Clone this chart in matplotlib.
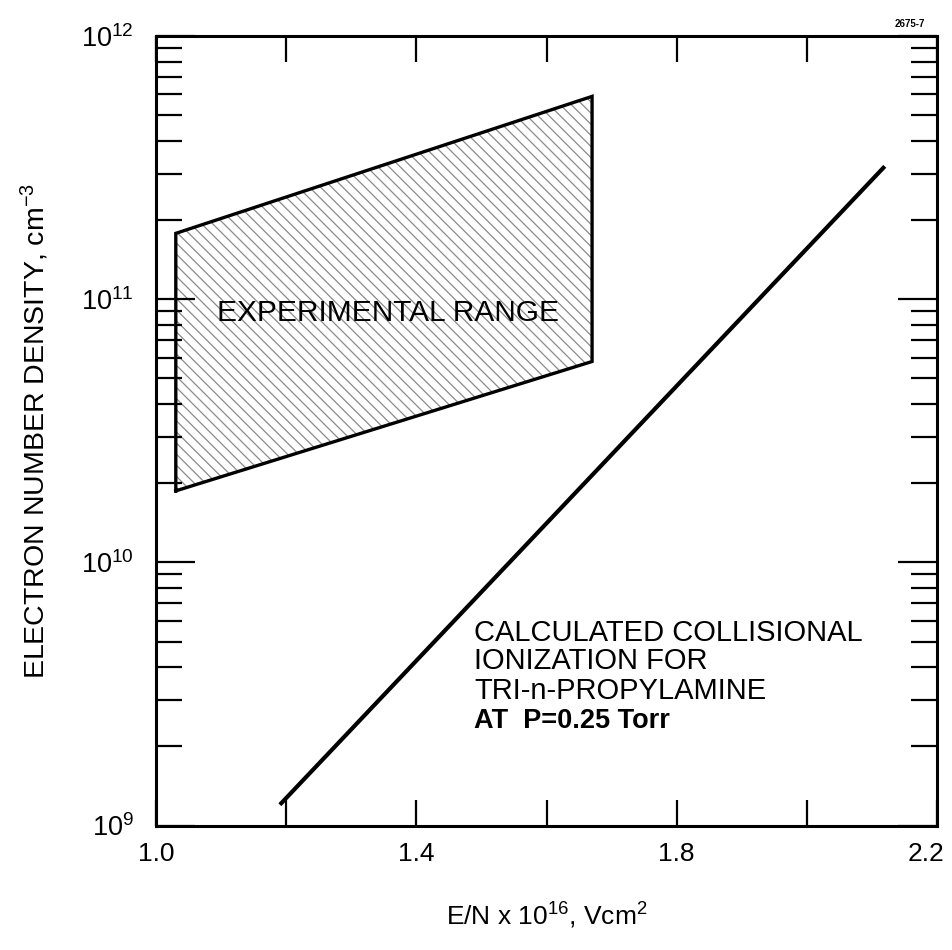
import matplotlib
matplotlib.use("Agg")
import matplotlib.pyplot as plt
from matplotlib.ticker import FixedLocator, LogLocator, NullFormatter
from matplotlib.transforms import ScaledTranslation

plt.rcParams["font.family"] = ["Liberation Sans", "DejaVu Sans"]
plt.rcParams["mathtext.fontset"] = "custom"
plt.rcParams["mathtext.rm"] = "Liberation Sans"
plt.rcParams["mathtext.it"] = "Liberation Sans"
plt.rcParams["hatch.linewidth"] = 0.9

# experimental range (shaded band): corners
exp_x = [1.03, 1.67]
exp_lower = [1.87e10, 5.8e10]
exp_upper = [1.78e11, 5.9e11]

# calculated collisional ionization, tri-n-propylamine at 0.25 Torr
calc_x = [1.19, 2.12]
calc_y = [1.2e9, 3.2e11]

x_ticks = [1.0, 1.4, 1.8, 2.2]
x_minor = [1.2, 1.6, 2.0]
y_ticks = [1e9, 1e10, 1e11, 1e12]
y_tick_labels = ["$10^{9}$", "$10^{10}$", "$10^{11}$", "$10^{12}$"]

calc_lines = ["CALCULATED COLLISIONAL", "IONIZATION FOR",
              "TRI-n-PROPYLAMINE", "AT  P=0.25 Torr"]

fig = plt.figure(figsize=(9.53, 9.50), dpi=100)
ax = fig.add_axes([0.164, 0.131, 0.819, 0.831])

# hatched polygon
poly_x = [exp_x[0], exp_x[1], exp_x[1], exp_x[0], exp_x[0]]
poly_y = [exp_lower[0], exp_lower[1], exp_upper[1], exp_upper[0], exp_lower[0]]
ax.fill(poly_x, poly_y, facecolor="none", edgecolor="#8a8a8a",
        hatch="\\\\\\", linewidth=0)
ax.plot(poly_x, poly_y, color="black", linewidth=2.4, solid_joinstyle="miter")

ax.plot(calc_x, calc_y, color="black", linewidth=3.0, solid_capstyle="butt")

ax.set_yscale("log")
ax.set_xlim(1.0, 2.2)
ax.set_ylim(1e9, 1e12)

ax.xaxis.set_major_locator(FixedLocator(x_ticks))
ax.xaxis.set_minor_locator(FixedLocator(x_minor))
ax.set_xticklabels([f"{v:.1f}" for v in x_ticks])
ax.yaxis.set_major_locator(FixedLocator(y_ticks))
ax.yaxis.set_minor_locator(LogLocator(base=10, subs=range(2, 10)))
ax.yaxis.set_minor_formatter(NullFormatter())
ax.set_yticklabels(y_tick_labels)

ax.tick_params(which="both", direction="in", top=True, right=True, width=1.6)
ax.tick_params(axis="x", which="both", length=19, labelsize=19, pad=12)
ax.tick_params(axis="y", which="major", length=28, labelsize=19.5, pad=16)
ax.tick_params(axis="y", which="minor", length=19)

# last x label sits a bit inside the frame, as in the original
lab = ax.get_xticklabels()[-1]
lab.set_transform(lab.get_transform() + ScaledTranslation(-8 / 72, 0, fig.dpi_scale_trans))

for s in ax.spines.values():
    s.set_linewidth(2.2)

ax.set_xlabel(r"E/N x 10$^{16}$, Vcm$^{2}$", fontsize=19, labelpad=25)
ax.set_ylabel(r"ELECTRON NUMBER DENSITY, cm$^{-3}$", fontsize=20.5,
              labelpad=22)

ax.text(0.297, 0.649, "EXPERIMENTAL RANGE", fontsize=21.5, ha="center",
        va="center", color="black", transform=ax.transAxes)

line_y = [0.244, 0.208, 0.171, 0.133]
for txt, yy in zip(calc_lines, line_y):
    ax.text(0.407, yy, txt, fontsize=21 if yy > 0.15 else 19.5, ha="left",
            va="center", color="black", transform=ax.transAxes,
            fontweight="normal" if yy > 0.15 else "bold")

fig.text(0.955, 0.975, "2675-7", fontsize=7, ha="center", va="center",
         fontweight="bold")

fig.savefig("out.png", dpi=100)
